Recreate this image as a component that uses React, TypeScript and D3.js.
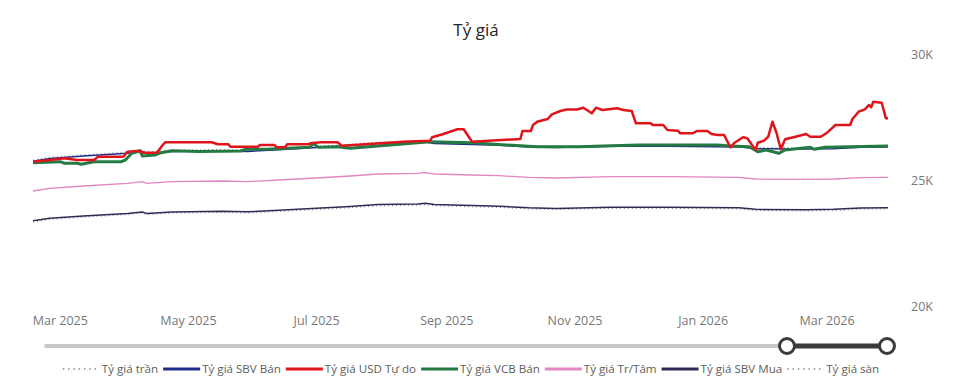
import React, { useEffect, useRef } from 'react';
import * as d3 from 'd3';

const WIDTH = 962;
const HEIGHT = 389;

// Tỷ giá NHNN: trung tâm, trần/sàn (±5%), bán ra / mua vào
const sbvDates = [
  '2025-02-16', '2025-02-24', '2025-03-12', '2025-04-02', '2025-04-09', '2025-04-11', '2025-04-23',
  '2025-05-17', '2025-05-29', '2025-06-13', '2025-07-01', '2025-07-17', '2025-07-30', '2025-08-18',
  '2025-08-22', '2025-08-26', '2025-09-13', '2025-09-26', '2025-10-10', '2025-10-23', '2025-11-18',
  '2025-12-15', '2026-01-18', '2026-01-26', '2026-02-19', '2026-03-04', '2026-03-17', '2026-03-30',
];
const centralRate = [
  24603, 24710, 24802, 24909, 24972, 24909, 24972, 25000, 24975, 25040, 25120, 25198, 25278, 25306,
  25329, 25278, 25238, 25210, 25147, 25119, 25171, 25171, 25147, 25079, 25067, 25079, 25131, 25147,
];
const ceilingRate = [
  25833, 25946, 26042, 26154, 26221, 26154, 26221, 26250, 26224, 26292, 26376, 26458, 26542, 26571,
  26595, 26542, 26500, 26471, 26404, 26375, 26430, 26430, 26404, 26333, 26320, 26333, 26388, 26404,
];
const sbvSell = [
  25783, 25896, 25992, 26104, 26171, 26104, 26171, 26200, 26174, 26242, 26326, 26408, 26492, 26521,
  26545, 26492, 26450, 26421, 26354, 26325, 26380, 26380, 26354, 26283, 26270, 26283, 26338, 26354,
];
const sbvBuy = [
  23423, 23525, 23612, 23714, 23773, 23714, 23773, 23800, 23776, 23838, 23914, 23988, 24064, 24091,
  24113, 24064, 24026, 24000, 23940, 23913, 23962, 23962, 23940, 23875, 23864, 23875, 23924, 23940,
];
const floorRate = [
  23373, 23475, 23562, 23664, 23723, 23664, 23723, 23750, 23726, 23788, 23864, 23938, 24014, 24041,
  24063, 24014, 23976, 23950, 23890, 23863, 23912, 23912, 23890, 23825, 23814, 23825, 23874, 23890,
];

// USD tự do
const freeDates = [
  '2025-02-16', '2025-02-24', '2025-03-03', '2025-03-09', '2025-03-17', '2025-03-19', '2025-03-31',
  '2025-04-02', '2025-04-08', '2025-04-09', '2025-04-16', '2025-04-19', '2025-04-20', '2025-05-12',
  '2025-05-15', '2025-05-20', '2025-05-21', '2025-06-03', '2025-06-04', '2025-06-11', '2025-06-12',
  '2025-06-16', '2025-06-17', '2025-06-27', '2025-06-28', '2025-07-03', '2025-07-11', '2025-07-13',
  '2025-07-26', '2025-08-11', '2025-08-24', '2025-08-25', '2025-08-30', '2025-09-06', '2025-09-09',
  '2025-09-13', '2025-09-21', '2025-10-06', '2025-10-07', '2025-10-11', '2025-10-12', '2025-10-14',
  '2025-10-19', '2025-10-21', '2025-10-25', '2025-10-28', '2025-11-02', '2025-11-05', '2025-11-09',
  '2025-11-11', '2025-11-14', '2025-11-21', '2025-11-24', '2025-11-28', '2025-11-30', '2025-12-07',
  '2025-12-08', '2025-12-13', '2025-12-15', '2025-12-20', '2025-12-21', '2025-12-27', '2025-12-29',
  '2026-01-03', '2026-01-05', '2026-01-08', '2026-01-11', '2026-01-14', '2026-01-16', '2026-01-20',
  '2026-01-22', '2026-01-26', '2026-01-27', '2026-01-30', '2026-02-01', '2026-02-03', '2026-02-05',
  '2026-02-06', '2026-02-07', '2026-02-09', '2026-02-14', '2026-02-19', '2026-02-21', '2026-02-26',
  '2026-03-01', '2026-03-05', '2026-03-12', '2026-03-13', '2026-03-16', '2026-03-19', '2026-03-21',
  '2026-03-22', '2026-03-23', '2026-03-27', '2026-03-29', '2026-03-30',
];
const freeUsd = [
  25766, 25833, 25901, 25833, 25833, 25964, 25964,
  26163, 26202, 26123, 26123, 26456, 26536, 26536,
  26456, 26456, 26361, 26361, 26429, 26429, 26337,
  26337, 26456, 26456, 26496, 26536, 26536, 26401,
  26468, 26560, 26599, 26734, 26853, 27052, 27052,
  26560, 26599, 26667, 26984, 26984, 27222, 27353,
  27460, 27647, 27778, 27837, 27837, 27909, 27687,
  27909, 27818, 27885, 27818, 27778, 27290, 27290,
  27222, 27222, 27024, 26996, 26893, 26893, 26984,
  26984, 26865, 26825, 26825, 26337, 26520, 26734,
  26694, 26230, 26520, 26599, 26758, 27353, 26893,
  26560, 26258, 26655, 26758, 26865, 26758, 26758,
  26917, 27222, 27222, 27448, 27750, 27845, 28016,
  27925, 28147, 28107, 27488, 27488,
];

// VCB bán ra
const vcbDates = [
  '2025-02-16', '2025-03-01', '2025-03-03', '2025-03-09', '2025-03-11', '2025-03-17', '2025-03-30',
  '2025-04-01', '2025-04-04', '2025-04-08', '2025-04-09', '2025-04-15', '2025-04-18', '2025-04-23',
  '2025-05-06', '2025-05-26', '2025-05-28', '2025-06-09', '2025-06-28', '2025-06-29', '2025-07-02',
  '2025-07-11', '2025-07-17', '2025-08-05', '2025-08-24', '2025-09-13', '2025-09-29', '2025-10-14',
  '2025-11-03', '2025-11-19', '2025-12-01', '2026-01-08', '2026-01-14', '2026-01-23', '2026-01-27',
  '2026-01-31', '2026-02-06', '2026-02-09', '2026-02-21', '2026-02-23', '2026-02-28', '2026-03-30',
];
const vcbSell = [
  25726, 25766, 25703, 25703, 25663, 25766, 25766,
  25833, 26099, 26202, 25992, 26032, 26123, 26202,
  26171, 26190, 26258, 26270, 26337, 26496, 26337,
  26361, 26298, 26429, 26560, 26520, 26429, 26361,
  26361, 26401, 26429, 26429, 26389, 26361, 26163,
  26230, 26099, 26230, 26337, 26258, 26337, 26389,
];

const xTickDates = ['2025-03-01', '2025-05-01', '2025-07-01', '2025-09-01', '2025-11-01', '2026-01-01', '2026-03-01'];
const yTicks = [20000, 25000, 30000];

const FONT = '"Segoe UI", "Open Sans", sans-serif';

const parse = d3.timeParse('%Y-%m-%d');

type Series = {
  name: string;
  color: string;
  width: number;
  dash?: string;
  dates: string[];
  values: number[];
};

const legendSeries: Series[] = [
  { name: 'Tỷ giá trần', color: '#7a7a7a', width: 1, dash: '1,3', dates: sbvDates, values: ceilingRate },
  { name: 'Tỷ giá SBV Bán', color: '#1f2b8c', width: 1.5, dates: sbvDates, values: sbvSell },
  { name: 'Tỷ giá USD Tự do', color: '#e0141b', width: 2.5, dates: freeDates, values: freeUsd },
  { name: 'Tỷ giá VCB Bán', color: '#237a43', width: 3, dates: vcbDates, values: vcbSell },
  { name: 'Tỷ giá Tr/Tâm', color: '#e286c0', width: 1.3, dates: sbvDates, values: centralRate },
  { name: 'Tỷ giá SBV Mua', color: '#2e2c55', width: 1.5, dates: sbvDates, values: sbvBuy },
  { name: 'Tỷ giá sàn', color: '#7a7a7a', width: 1, dash: '1,3', dates: sbvDates, values: floorRate },
];

// thứ tự vẽ: đường đỏ nằm trên cùng
const drawOrder = [0, 6, 1, 4, 5, 3, 2];

export default function App() {
  const svgRef = useRef<SVGSVGElement>(null);

  useEffect(() => {
    if (!svgRef.current) return;
    const svg = d3.select(svgRef.current);
    svg.selectAll('*').remove();

    const x = d3.scaleTime()
      .domain([parse('2025-02-16')!, parse('2026-03-30')!])
      .range([33, 888]);
    const y = d3.scaleLinear().domain([20000, 30000]).range([307, 55]);

    // tiêu đề
    svg.append('text')
      .attr('x', 476)
      .attr('y', 36)
      .attr('text-anchor', 'middle')
      .attr('font-family', FONT)
      .attr('font-size', 17)
      .attr('fill', '#252423')
      .text('Tỷ giá');

    // trục X
    const fmt = d3.timeFormat('%b %Y');
    svg.append('g')
      .selectAll('text')
      .data(xTickDates)
      .enter()
      .append('text')
      .attr('x', d => x(parse(d)!))
      .attr('y', 325)
      .attr('text-anchor', 'middle')
      .attr('font-family', FONT)
      .attr('font-size', 12.5)
      .attr('fill', '#777')
      .text(d => fmt(parse(d)!));

    // trục Y (bên phải)
    svg.append('g')
      .selectAll('text')
      .data(yTicks)
      .enter()
      .append('text')
      .attr('x', 933)
      .attr('y', d => y(d) + 4)
      .attr('text-anchor', 'end')
      .attr('font-family', FONT)
      .attr('font-size', 12.5)
      .attr('fill', '#777')
      .text(d => d3.format('~s')(d).replace('k', 'K'));

    // các đường
    const line = d3.line<[Date, number]>()
      .x(d => x(d[0]))
      .y(d => y(d[1]));

    drawOrder.forEach(i => {
      const s = legendSeries[i];
      const pts: [Date, number][] = s.dates.map((d, j) => [parse(d)!, s.values[j]]);
      svg.append('path')
        .datum(pts)
        .attr('d', line)
        .attr('fill', 'none')
        .attr('stroke', s.color)
        .attr('stroke-width', s.width)
        .attr('stroke-linejoin', 'round')
        .attr('stroke-dasharray', s.dash ?? null);
    });

    // thanh trượt zoom
    const slider = svg.append('g');
    slider.append('line')
      .attr('x1', 46).attr('x2', 787).attr('y1', 346).attr('y2', 346)
      .attr('stroke', '#c8c8c8').attr('stroke-width', 4).attr('stroke-linecap', 'round');
    slider.append('line')
      .attr('x1', 787).attr('x2', 887).attr('y1', 346).attr('y2', 346)
      .attr('stroke', '#3b3b3b').attr('stroke-width', 5);
    [787, 887].forEach(cx => {
      slider.append('circle')
        .attr('cx', cx).attr('cy', 346).attr('r', 7.5)
        .attr('fill', '#fff').attr('stroke', '#3b3b3b').attr('stroke-width', 3);
    });

    // chú thích
    const legend = svg.append('g');
    let lx = 0;
    legendSeries.forEach(s => {
      legend.append('line')
        .attr('x1', lx).attr('x2', lx + 37).attr('y1', 369).attr('y2', 369)
        .attr('stroke', s.dash ? '#8a8a8a' : s.color)
        .attr('stroke-width', s.dash ? 1.5 : 3)
        .attr('stroke-dasharray', s.dash ? '1.5,3.8' : null);
      const t = legend.append('text')
        .attr('x', lx + 39)
        .attr('y', 373)
        .attr('font-family', FONT)
        .attr('font-size', 11.6)
        .attr('fill', '#605e5c')
        .text(s.name);
      const w = (t.node() as SVGTextElement).getComputedTextLength();
      lx += 39 + w + 5;
    });
    const total = lx - 5;
    legend.attr('transform', `translate(${471 - total / 2},0)`);
  }, []);

  return (
    <svg
      ref={svgRef}
      width={WIDTH}
      height={HEIGHT}
      viewBox={`0 0 ${WIDTH} ${HEIGHT}`}
      style={{ display: 'block', position: 'absolute', left: 0, top: 0, background: '#fff' }}
    />
  );
}
